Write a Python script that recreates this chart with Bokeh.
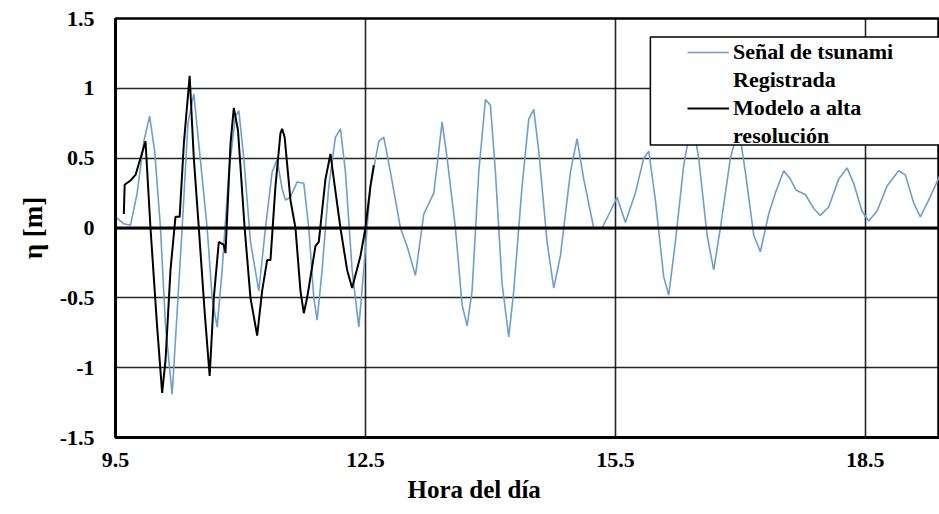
from bokeh.plotting import figure
from bokeh.models import (Range1d, FixedTicker, CustomJSTickFormatter, Span, Title,
                          Legend, LegendItem, BoxAnnotation, ColumnDataSource)
from bokeh.embed import file_html
from bokeh.resources import INLINE

# ---- data ----
obs_hour = [9.50, 9.60, 9.68, 9.76, 9.84, 9.91, 9.97, 10.04, 10.10, 10.18, 10.24, 10.30,
            10.37, 10.44, 10.50, 10.60, 10.66, 10.72, 10.78, 10.86, 10.94, 10.98, 11.04,
            11.12, 11.22, 11.30, 11.38, 11.44, 11.50, 11.54, 11.60, 11.68, 11.76, 11.82,
            11.88, 11.92, 11.98, 12.06, 12.14, 12.20, 12.26, 12.34, 12.42, 12.48, 12.56,
            12.66, 12.72, 12.80, 12.92, 13.00, 13.10, 13.20, 13.32, 13.38, 13.42, 13.48,
            13.58, 13.66, 13.72, 13.78, 13.86, 13.94, 14.00, 14.06, 14.14, 14.22, 14.28,
            14.38, 14.46, 14.52, 14.58, 14.68, 14.76, 14.84, 14.96, 15.04, 15.12, 15.24,
            15.34, 15.44, 15.52, 15.62, 15.74, 15.84, 15.90, 15.98, 16.08, 16.14, 16.22,
            16.32, 16.42, 16.50, 16.60, 16.68, 16.76, 16.88, 16.98, 17.06, 17.16, 17.24,
            17.34, 17.42, 17.52, 17.60, 17.67, 17.78, 17.88, 17.96, 18.06, 18.18, 18.28,
            18.36, 18.46, 18.54, 18.64, 18.76, 18.90, 18.98, 19.08, 19.16, 19.26, 19.39]
obs_eta = [0.08, 0.03, 0.02, 0.25, 0.62, 0.80, 0.55, 0.00, -0.70, -1.19, -0.60, 0.00,
           0.75, 0.96, 0.60, 0.00, -0.50, -0.71, -0.30, 0.40, 0.80, 0.84, 0.50,
           -0.10, -0.45, 0.00, 0.40, 0.49, 0.28, 0.20, 0.22, 0.33, 0.32, 0.00,
           -0.50, -0.66, -0.30, 0.30, 0.65, 0.71, 0.40, -0.30, -0.71, -0.30, 0.30,
           0.62, 0.65, 0.40, 0.00, -0.13, -0.34, 0.10, 0.25, 0.55, 0.76, 0.50,
           0.00, -0.55, -0.70, -0.45, 0.40, 0.92, 0.88, 0.40, -0.40, -0.78, -0.45,
           0.30, 0.78, 0.85, 0.55, -0.10, -0.43, -0.20, 0.40, 0.64, 0.35, 0.00,
           0.00, 0.12, 0.22, 0.04, 0.25, 0.50, 0.55, 0.20, -0.35, -0.48, -0.10,
           0.45, 0.78, 0.50, -0.05, -0.30, 0.00, 0.50, 0.72, 0.40, -0.05, -0.17,
           0.10, 0.25, 0.41, 0.35, 0.27, 0.24, 0.14, 0.09, 0.15, 0.35, 0.43,
           0.32, 0.12, 0.05, 0.12, 0.30, 0.41, 0.38, 0.18, 0.08, 0.20, 0.37]

model_hour = [9.60, 9.61, 9.68, 9.74, 9.80, 9.86, 9.92, 10.00, 10.06, 10.10, 10.16, 10.22,
              10.27, 10.32, 10.39, 10.44, 10.50, 10.57, 10.63, 10.68, 10.74, 10.80, 10.82,
              10.88, 10.92, 10.97, 11.05, 11.12, 11.20, 11.26, 11.32, 11.36, 11.42, 11.48,
              11.50, 11.53, 11.60, 11.66, 11.72, 11.76, 11.80, 11.90, 11.94, 12.02, 12.08,
              12.12, 12.20, 12.28, 12.34, 12.44, 12.50, 12.56, 12.60]
model_eta = [0.10, 0.31, 0.34, 0.38, 0.50, 0.62, 0.00, -0.71, -1.18, -0.95, -0.30, 0.08,
             0.08, 0.60, 1.09, 0.50, 0.00, -0.60, -1.06, -0.50, -0.10, -0.12, -0.18,
             0.60, 0.86, 0.70, 0.00, -0.50, -0.77, -0.45, -0.23, -0.23, 0.30, 0.68,
             0.71, 0.65, 0.20, 0.00, -0.45, -0.61, -0.50, -0.13, -0.10, 0.35, 0.53,
             0.35, 0.00, -0.30, -0.43, -0.20, 0.00, 0.30, 0.45]

x_ticks = [9.5, 12.5, 15.5, 18.5]
y_ticks = [-1.5, -1.0, -0.5, 0.0, 0.5, 1.0, 1.5]

series_labels = ["Señal de tsunami", "Registrada", "Modelo a alta", "resolución"]
x_title = "Hora del día"
y_title = "η [m]"

FONT = "Liberation Serif, serif"

p = figure(width=939, height=514, output_backend="svg", toolbar_location=None,
           x_range=Range1d(9.5, 19.39), y_range=Range1d(-1.5, 1.5),
           min_border_left=115, min_border_right=0, min_border_top=18,
           min_border_bottom=77, background_fill_color="white",
           border_fill_color="white")

p.outline_line_color = "black"
p.outline_line_width = 2.5

# grids
for g in (p.xgrid, p.ygrid):
    g.grid_line_color = "black"
    g.grid_line_width = 1.6
    g.grid_line_alpha = 0.85
p.xgrid.ticker = FixedTicker(ticks=x_ticks)
p.ygrid.ticker = FixedTicker(ticks=y_ticks)
p.add_layout(Span(location=0, dimension="width", line_color="black", line_width=3))

# axes
for ax in (p.xaxis[0], p.yaxis[0]):
    ax.axis_line_color = "black"
    ax.axis_line_width = 3
    ax.major_tick_line_color = None
    ax.minor_tick_line_color = None
    ax.major_tick_out = 0
    ax.major_tick_in = 0
    ax.minor_tick_out = 0
    ax.major_label_text_font = FONT
    ax.major_label_text_font_style = "bold"
    ax.major_label_text_font_size = "22px"
    ax.major_label_text_color = "black"
    ax.formatter = CustomJSTickFormatter(code="return tick.toString();")
p.xaxis.ticker = FixedTicker(ticks=x_ticks)
p.yaxis.ticker = FixedTicker(ticks=y_ticks)
p.xaxis.major_label_standoff = 15
p.yaxis.major_label_standoff = 21

p.yaxis.axis_label = y_title
p.yaxis.axis_label_text_font = FONT
p.yaxis.axis_label_text_font_style = "bold"
p.yaxis.axis_label_text_font_size = "27px"
p.yaxis.axis_label_text_color = "black"
p.yaxis.axis_label_standoff = 9

# data lines
r_obs = p.line(obs_hour, obs_eta, line_color="#6b9fcf", line_width=1.6)
r_mod = p.line(model_hour, model_eta, line_color="black", line_width=2)

# x axis title placed like the reference (left part of the frame)
p.add_layout(Title(text=x_title, align="left", offset=292, standoff=8,
                   text_font=FONT, text_font_style="bold", text_font_size="25px",
                   text_color="black"), "below")

# legend box
p.add_layout(BoxAnnotation(left=15.92, right=20.5, top=1.3675, bottom=0.594,
                           fill_color="white", fill_alpha=1.0, line_color="black",
                           line_width=1.5, line_alpha=1.0))

empty_src = ColumnDataSource(data=dict(x=[], y=[]))
r_blank1 = p.line("x", "y", source=empty_src, line_alpha=0)
r_blank2 = p.line("x", "y", source=empty_src, line_alpha=0)

legend = Legend(items=[LegendItem(label=series_labels[0], renderers=[r_obs]),
                       LegendItem(label=series_labels[1], renderers=[r_blank1]),
                       LegendItem(label=series_labels[2], renderers=[r_mod]),
                       LegendItem(label=series_labels[3], renderers=[r_blank2])],
                location=(572, 287), padding=0, spacing=0, margin=0,
                glyph_width=42, glyph_height=28, label_height=28, label_standoff=4,
                label_text_font=FONT, label_text_font_style="bold",
                label_text_font_size="22px", label_text_color="black",
                background_fill_alpha=0, border_line_color=None)
p.add_layout(legend)

open("out.html", "w").write(file_html(p, INLINE))
